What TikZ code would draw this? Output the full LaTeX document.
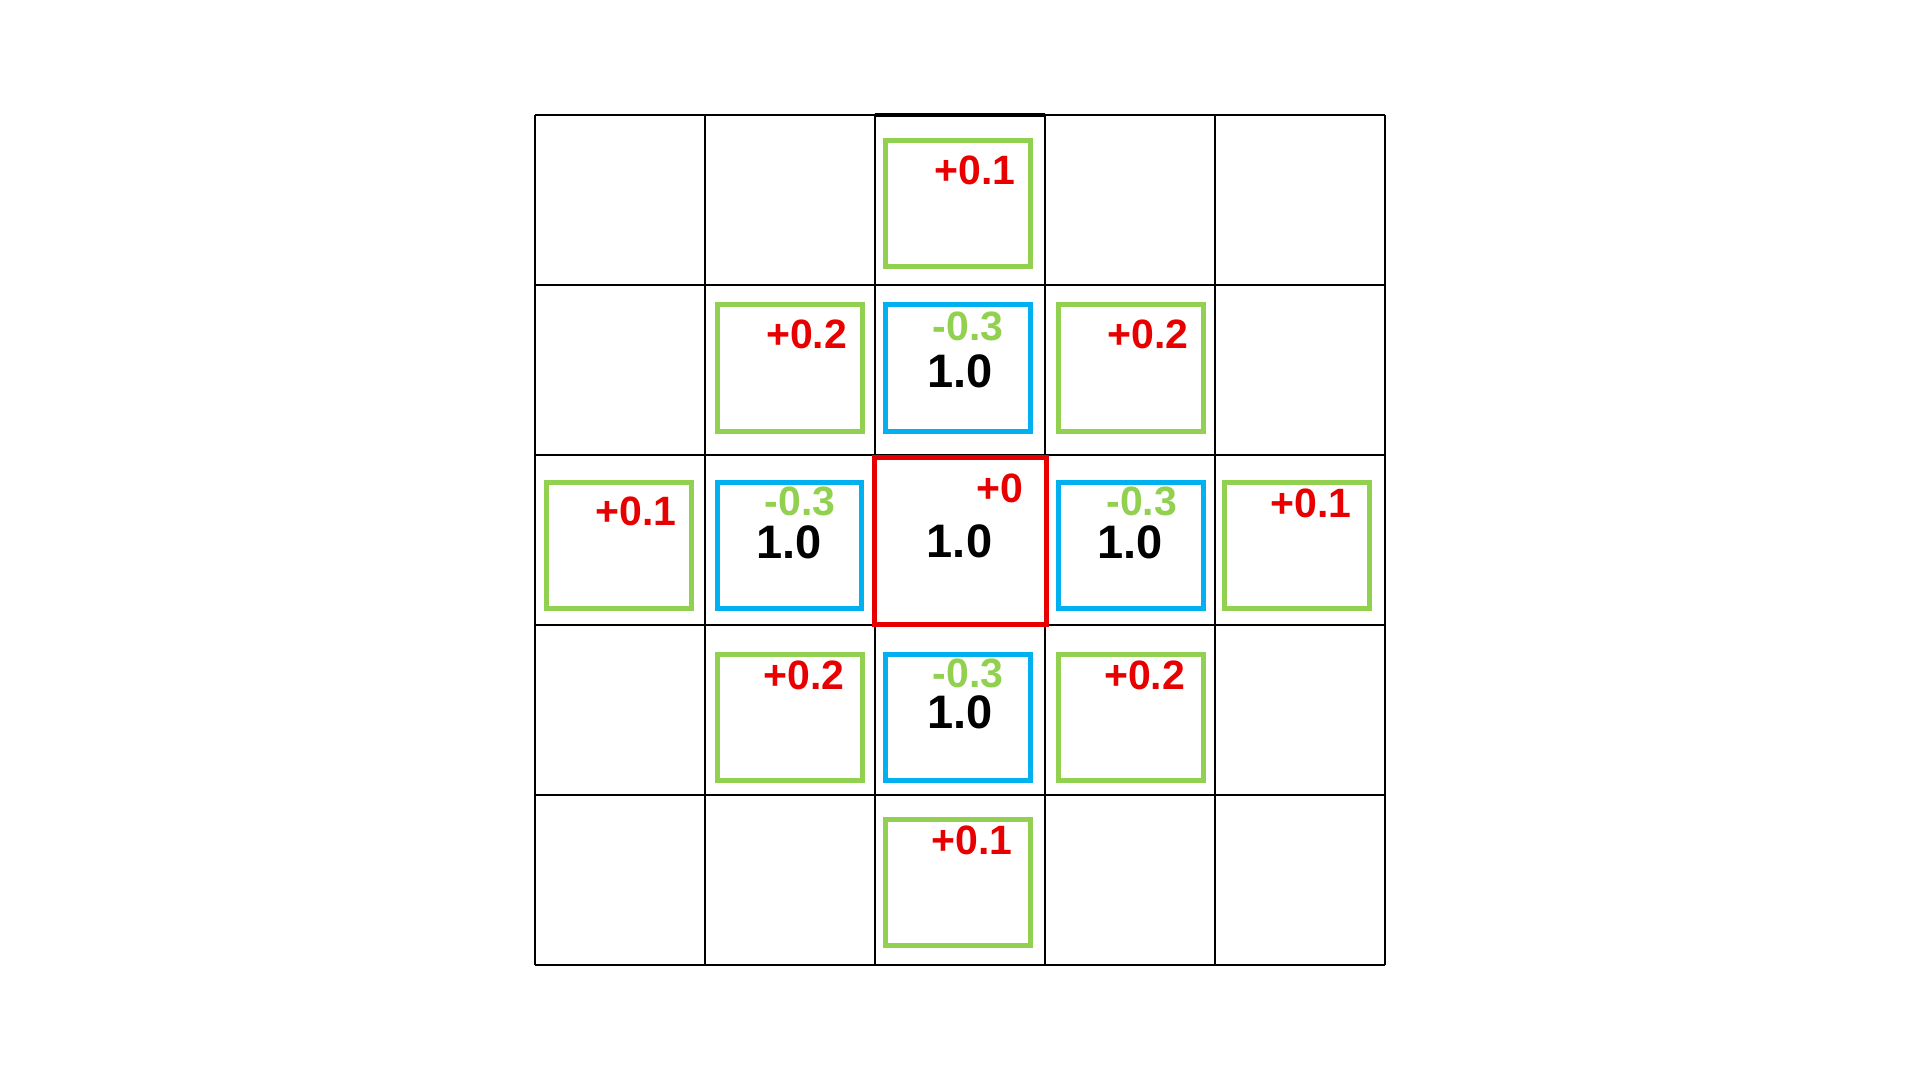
\documentclass[tikz,border=0pt]{standalone}
\usepackage{fontspec}
\setmainfont{Liberation Sans}
\definecolor{boxgreen}{RGB}{146,208,80}
\definecolor{boxblue}{RGB}{0,176,240}
\definecolor{boxred}{RGB}{232,0,0}
\definecolor{txtred}{RGB}{232,0,0}
\begin{document}
\begin{tikzpicture}[x=1pt,y=-1pt,
  gridline/.style={line width=1.8pt,black},
  gbox/.style={draw=boxgreen,line width=5pt,minimum width=144.5pt,minimum height=126.5pt,inner sep=0pt,outer sep=0pt},
  bbox/.style={draw=boxblue,line width=5pt,minimum width=144.5pt,minimum height=126.5pt,inner sep=0pt,outer sep=0pt},
  rbox/.style={draw=boxred,line width=5pt,minimum width=172.6pt,minimum height=167.3pt,inner sep=0pt,outer sep=0pt},
  plab/.style={inner sep=0pt,text=txtred,font=\fontsize{41}{48}\selectfont\bfseries},
  mlab/.style={inner sep=0pt,text=boxgreen,font=\fontsize{41}{48}\selectfont\bfseries},
  vlab/.style={inner sep=0pt,text=black,font=\fontsize{47}{54}\selectfont\bfseries}]
\fill[white] (0,0) rectangle (1920,1080);
\useasboundingbox (0,0) rectangle (1920,1080);
% grid
\foreach \k in {0,...,5}{
  \draw[gridline] (535+170*\k,115) -- (535+170*\k,965);
  \draw[gridline] (535,115+170*\k) -- (1385,115+170*\k);
}
\draw[line width=3.5pt,black] (875,115) -- (1045,115);
% row 0
\node[gbox] (b02) at (958,203.7) {};
\node[plab] (l02) at (975,170) {+0.1};
% row 1
\node[gbox] (b11) at (790,368) {};
\node[bbox] (b12) at (958,368) {};
\node[gbox] (b13) at (1131.2,368) {};
\node[plab] (l11) at (806.7,334.8) {+0.2};
\node[mlab] (m12) at (968.3,326.2) {-0.3};
\node[vlab] (v12) at (960,371.7) {1.0};
\node[plab] (l13) at (1147.8,334.8) {+0.2};
% row 2
\node[gbox] (b20) at (619,545.5) {};
\node[bbox] (b21) at (789.7,545.5) {};
\node[rbox] (b22) at (960.5,541.2) {};
\node[bbox] (b23) at (1131.2,545.5) {};
\node[gbox] (b24) at (1297,545.5) {};
\node[plab] (l20) at (636,511) {+0.1};
\node[mlab] (m21) at (800,501.5) {-0.3};
\node[vlab] (v21) at (789.3,542.2) {1.0};
\node[plab] (l22) at (1000,488.5) {+0};
\node[vlab] (v22) at (959.5,541.5) {1.0};
\node[mlab] (m23) at (1141.7,501.5) {-0.3};
\node[vlab] (v23) at (1129.7,542.2) {1.0};
\node[plab] (l24) at (1310.8,503.8) {+0.1};
% row 3
\node[gbox] (b31) at (790,717.5) {};
\node[bbox] (b32) at (958,717.5) {};
\node[gbox] (b33) at (1131.2,717.5) {};
\node[plab] (l31) at (804,675.8) {+0.2};
\node[mlab] (m32) at (968.3,673.5) {-0.3};
\node[vlab] (v32) at (959.7,712.5) {1.0};
\node[plab] (l33) at (1144.7,675.8) {+0.2};
% row 4
\node[gbox] (b42) at (958,882.5) {};
\node[plab] (l42) at (972,840.8) {+0.1};
\end{tikzpicture}
\end{document}
